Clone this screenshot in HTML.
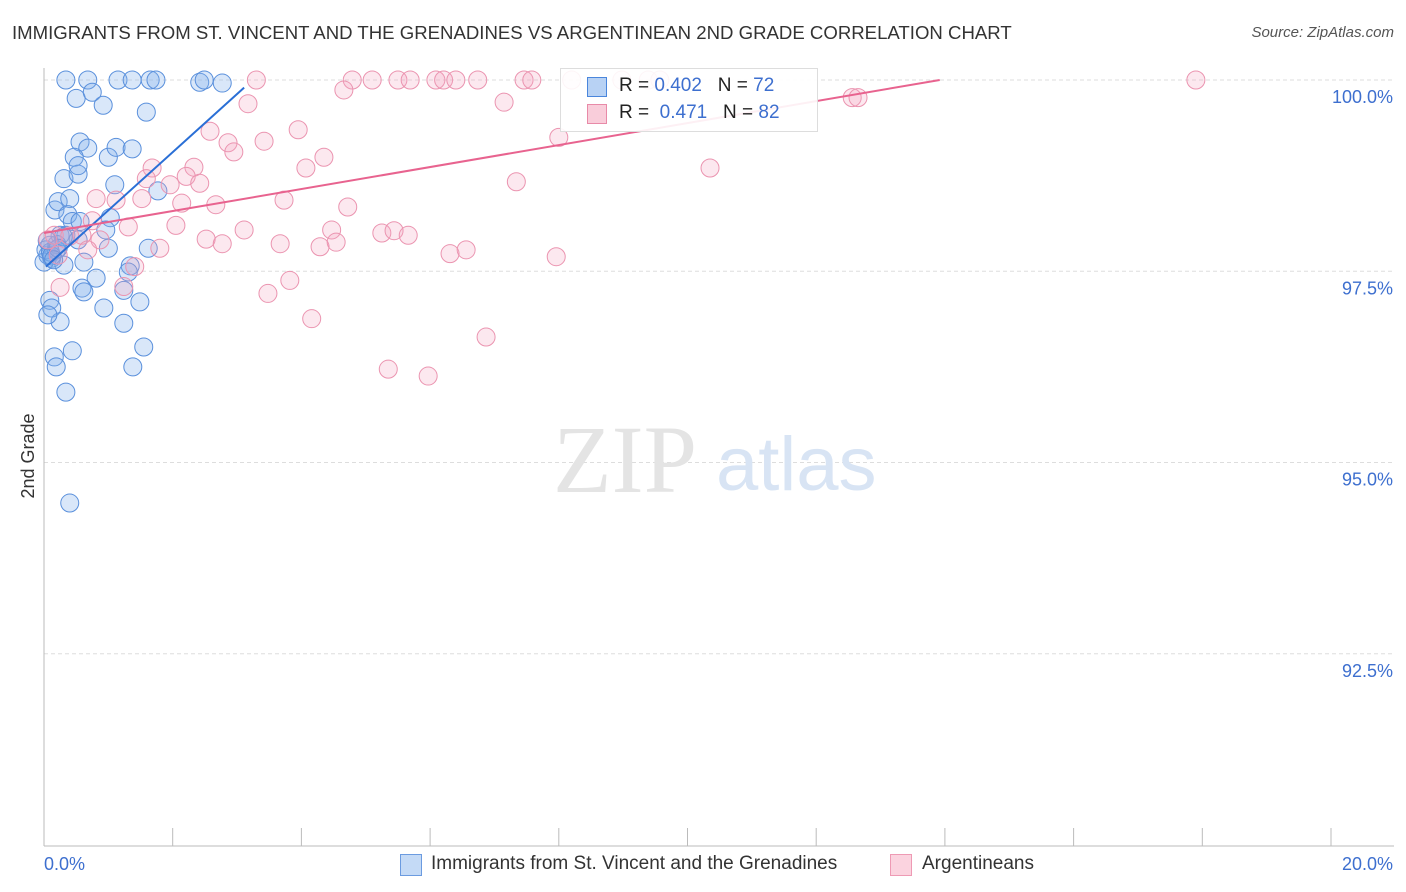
<!DOCTYPE html>
<html><head><meta charset="utf-8">
<style>
body{margin:0;background:#fff;font-family:"Liberation Sans",sans-serif;}
#wrap{position:relative;width:1406px;height:892px;overflow:hidden;}
.t{position:absolute;white-space:nowrap;}
</style></head>
<body><div id="wrap">
<div class="t" style="left:12px;top:22px;font-size:18.6px;color:#333;">IMMIGRANTS FROM ST. VINCENT AND THE GRENADINES VS ARGENTINEAN 2ND GRADE CORRELATION CHART</div>
<div class="t" style="right:12px;top:24px;font-size:15px;color:#555;font-style:italic;">Source: ZipAtlas.com</div>
<svg id="chart" width="1406" height="892" style="position:absolute;left:0;top:0"></svg>
</div>
<script>
const yTicks=[100,97.5,95,92.5];
const yTickLabels=["100.0%","97.5%","95.0%","92.5%"];
const xTickVals=[0,2,4,6,8,10,12,14,16,18,20];
const xLabels=["0.0%","20.0%"];
const blueX=[0.34,0.68,1.15,1.37,1.65,1.74,2.42,2.49,2.77,0.5,0.75,0.92,1.59,0.56,0.68,0.47,1.0,1.12,1.37,0.31,0.53,0.53,1.1,1.77,0.17,0.22,0.4,0.37,0.44,1.03,0.96,0.09,0.25,0.34,0.53,1.0,1.62,0.06,0.12,0.31,0.62,1.34,1.31,0.81,0.59,0.62,1.24,1.49,0.93,0.09,0.12,0.25,1.24,1.55,0.44,0.16,0.19,1.38,0.34,0.4,0.0,0.03,0.19,0.06,0.56,0.1,0.2,0.3,0.12,0.22,0.05,0.15];
const blueY=[100,100,100,100,100,100,99.97,100,99.96,99.76,99.84,99.67,99.58,99.19,99.11,98.99,98.99,99.12,99.1,98.71,98.77,98.88,98.63,98.55,98.3,98.41,98.45,98.24,98.15,98.2,98.04,97.84,97.97,97.97,97.91,97.8,97.8,97.71,97.67,97.58,97.62,97.57,97.49,97.41,97.28,97.23,97.25,97.1,97.02,97.12,97.02,96.84,96.82,96.51,96.46,96.38,96.25,96.25,95.92,94.47,97.62,97.78,97.78,96.93,98.15,97.75,97.85,97.95,97.7,97.8,97.9,97.65];
const pinkX=[3.3,4.79,5.1,5.5,5.69,6.09,6.21,6.4,6.74,7.46,7.58,8.2,8.98,9.39,9.57,17.9,4.66,3.17,7.15,12.56,12.65,2.58,3.95,2.86,2.95,3.42,8.0,4.35,4.07,1.68,2.33,1.59,2.21,1.96,2.42,10.35,7.34,0.81,1.12,1.52,2.14,2.67,3.73,4.72,2.05,3.11,0.75,1.31,4.47,5.25,5.44,5.66,2.52,2.77,3.67,4.29,4.54,6.31,6.56,7.96,0.87,1.8,0.06,0.22,1.41,0.25,1.24,3.48,3.82,4.16,6.87,5.35,5.97,0.16,0.4,0.59,0.68];
const pinkY=[100,100,100,100,100,100,100,100,100,100,100,100,100,100,100,100,99.87,99.69,99.71,99.77,99.77,99.33,99.35,99.18,99.06,99.2,99.25,98.99,98.85,98.85,98.86,98.71,98.74,98.63,98.65,98.85,98.67,98.45,98.43,98.45,98.39,98.37,98.43,98.34,98.1,98.04,98.16,98.08,98.04,98.0,98.03,97.97,97.92,97.86,97.86,97.82,97.88,97.73,97.78,97.69,97.91,97.8,97.91,97.71,97.56,97.29,97.3,97.21,97.38,96.88,96.64,96.22,96.13,97.97,97.96,97.97,97.78];
const blueTrendX=[0.03,3.11], blueTrendY=[97.56,99.9];
const pinkTrendX=[0,13.92], pinkTrendY=[98.0,100.0];

const NS="http://www.w3.org/2000/svg";
const svg=document.getElementById('chart');
const xs=v=>44+v*64.35;
const ys=v=>80+(100-v)*76.5;
function mk(tag,attrs){const e=document.createElementNS(NS,tag);for(const k in attrs)e.setAttribute(k,attrs[k]);svg.appendChild(e);return e;}
yTicks.forEach((t,i)=>{
  const g=mk('line',{x1:44,x2:1394,y1:ys(t),y2:ys(t),stroke:'#ddd','stroke-dasharray':'4,3'});
  
  
  const l=mk('text',{x:1393,y:ys(t)+23,'text-anchor':'end','font-size':18,fill:'#3d6fcf','font-family':'Liberation Sans, sans-serif'});
  l.textContent=yTickLabels[i];
  
  
});
let ax=mk('line',{x1:44,x2:44,y1:68,y2:846,stroke:'#bbb'});


ax=mk('line',{x1:44,x2:1394,y1:846,y2:846,stroke:'#bbb'});


xTickVals.forEach(t=>{
  const e=mk('line',{x1:xs(t),x2:xs(t),y1:828,y2:846,stroke:'#bbb'});
  
  
});
let xl=mk('text',{x:44,y:870,'font-size':18,fill:'#3d6fcf','font-family':'Liberation Sans, sans-serif'});
xl.textContent=xLabels[0];


xl=mk('text',{x:1393,y:870,'text-anchor':'end','font-size':18,fill:'#3d6fcf','font-family':'Liberation Sans, sans-serif'});
xl.textContent=xLabels[1];


let yt=mk('text',{x:34,y:456,'text-anchor':'middle','font-size':18,fill:'#333',transform:'rotate(-90 34 456)','font-family':'Liberation Sans, sans-serif'});
yt.textContent='2nd Grade';


let wm=mk('text',{x:553,y:492,'font-size':96,fill:'#e4e4e4','font-family':'Liberation Serif, serif'});
wm.textContent='ZIP';


wm=mk('text',{x:716,y:490,'font-size':76,fill:'#d8e4f4','font-family':'Liberation Sans, sans-serif'});
wm.textContent='atlas';


blueX.forEach((v,i)=>{
  const c=mk('circle',{cx:xs(v),cy:ys(blueY[i]),r:9,fill:'rgba(130,175,235,0.3)',stroke:'#5a90dc','stroke-width':1});
  
  
});
pinkX.forEach((v,i)=>{
  const c=mk('circle',{cx:xs(v),cy:ys(pinkY[i]),r:9,fill:'rgba(245,165,190,0.25)',stroke:'#eb94b0','stroke-width':1});
  
  
});
let tl=mk('line',{x1:xs(blueTrendX[0]),y1:ys(blueTrendY[0]),x2:xs(blueTrendX[1]),y2:ys(blueTrendY[1]),stroke:'#2a6fd6','stroke-width':2});


tl=mk('line',{x1:xs(pinkTrendX[0]),y1:ys(pinkTrendY[0]),x2:xs(pinkTrendX[1]),y2:ys(pinkTrendY[1]),stroke:'#e8638f','stroke-width':2});


</script>
<div class="t" style="left:560px;top:68px;width:256px;height:62px;border:1px solid #ddd;background:rgba(255,255,255,0.9);">
 <div class="t" style="left:26px;top:8px;width:18px;height:18px;background:#b8d2f4;border:1px solid #4a86dc;"></div>
 <div class="t" style="left:58px;top:6px;font-size:19px;color:#222;">R = <span style="color:#3d6fcf">0.402</span>&nbsp;&nbsp;&nbsp;N = <span style="color:#3d6fcf">72</span></div>
 <div class="t" style="left:26px;top:35px;width:18px;height:18px;background:#f9cdda;border:1px solid #e88aa8;"></div>
 <div class="t" style="left:58px;top:33px;font-size:19px;color:#222;">R = &nbsp;<span style="color:#3d6fcf">0.471</span>&nbsp;&nbsp;&nbsp;N = <span style="color:#3d6fcf">82</span></div>
</div>
<div class="t" style="left:400px;top:854px;width:20px;height:20px;background:#c4daf6;border:1px solid #6b9be0;"></div>
<div class="t" style="left:431px;top:853px;font-size:19px;color:#333;">Immigrants from St. Vincent and the Grenadines</div>
<div class="t" style="left:890px;top:854px;width:20px;height:20px;background:#fbd3df;border:1px solid #ee9ab4;"></div>
<div class="t" style="left:922px;top:853px;font-size:19px;color:#333;">Argentineans</div>
</body></html>
